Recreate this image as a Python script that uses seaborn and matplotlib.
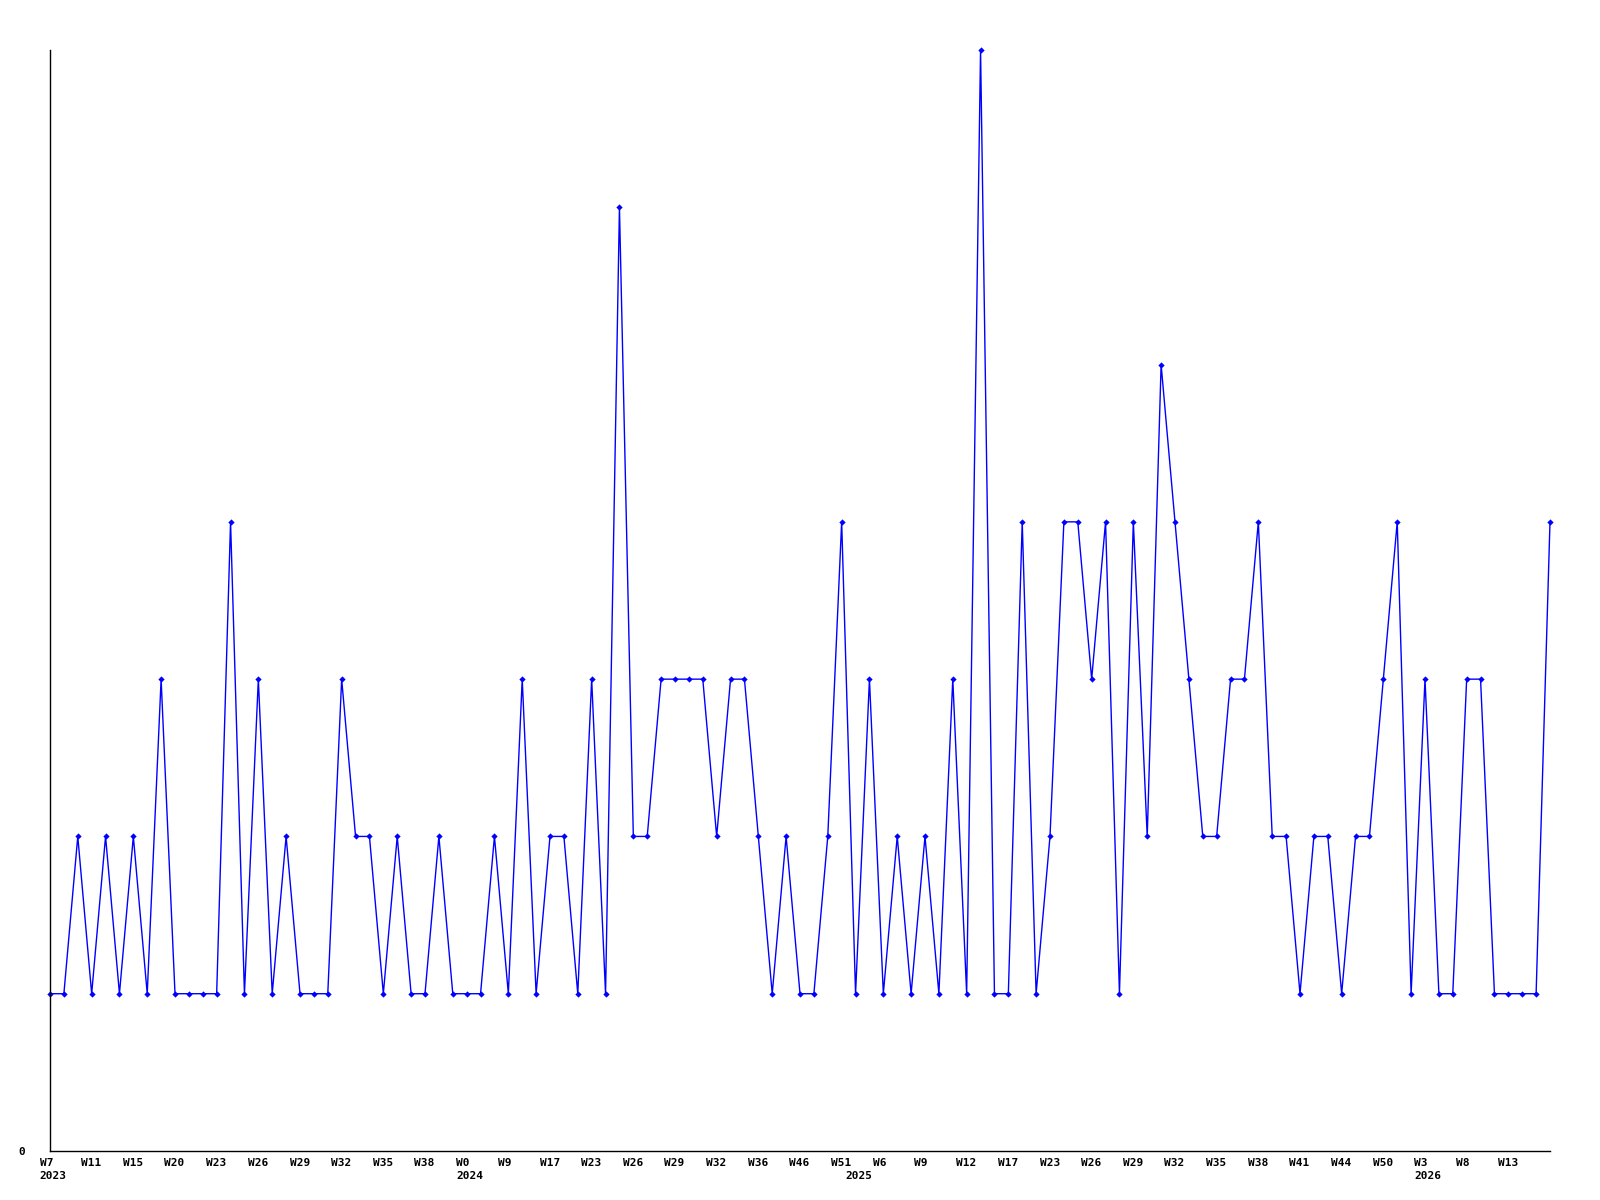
import numpy as np
import pandas as pd
import matplotlib
matplotlib.use("Agg")
import matplotlib.pyplot as plt
import seaborn as sns
from matplotlib.transforms import ScaledTranslation

# weekly counts, one per point
values = [1, 1, 2, 1, 2, 1, 2, 1, 3, 1,
          1, 1, 1, 4, 1, 3, 1, 2, 1, 1,
          1, 3, 2, 2, 1, 2, 1, 1, 2, 1,
          1, 1, 2, 1, 3, 1, 2, 2, 1, 3,
          1, 6, 2, 2, 3, 3, 3, 3, 2, 3,
          3, 2, 1, 2, 1, 1, 2, 4, 1, 3,
          1, 2, 1, 2, 1, 3, 1, 7, 1, 1,
          4, 1, 2, 4, 4, 3, 4, 1, 4, 2,
          5, 4, 3, 2, 2, 3, 3, 4, 2, 2,
          1, 2, 2, 1, 2, 2, 3, 4, 1, 3,
          1, 1, 3, 3, 1, 1, 1, 1, 4]

# week labels shown every third point
week_labels = ["W7", "W11", "W15", "W20", "W23", "W26", "W29", "W32", "W35", "W38",
               "W0", "W9", "W17", "W23", "W26", "W29", "W32", "W36", "W46", "W51",
               "W6", "W9", "W12", "W17", "W23", "W26", "W29", "W32", "W35", "W38",
               "W41", "W44", "W50", "W3", "W8", "W13"]
tick_step = 3
# year labels at the first point of each year
year_labels = ["2023", "2024", "2025", "2026"]
year_starts = [0, 30, 58, 99]
y_ticks = [0]
y_tick_labels = ["0"]

sns.set_theme(style="white")
plt.rcParams["font.family"] = ["DejaVu Sans Mono", "DejaVu Sans"]

W, H = 1600, 1200
fig = plt.figure(figsize=(W / 100, H / 100), dpi=100)
ax = fig.add_axes([50 / W, 1 - 1151 / H, 1500 / W, (1151 - 50) / H])

df = pd.DataFrame({"week": np.arange(len(values)), "count": values})
sns.lineplot(data=df, x="week", y="count", ax=ax, color="#0000ff", lw=1.0,
             marker="D", markersize=3.2, markeredgewidth=0, clip_on=False)

ax.set_xlim(0, len(values) - 1)
ax.set_ylim(0, 7)
ax.xaxis.remove_overlapping_locs = False
ax.set_xticks(np.arange(len(week_labels)) * tick_step)
ax.set_xticklabels(week_labels, fontsize=8, fontweight="bold")
ax.set_xticks(year_starts, minor=True)
ax.set_xticklabels(year_labels, minor=True, fontsize=8, fontweight="bold")
ax.set_yticks(y_ticks)
ax.set_yticklabels(y_tick_labels, fontsize=8, fontweight="bold")
ax.set_xlabel("")
ax.set_ylabel("")
ax.grid(False)
ax.set_facecolor("white")

for s in ["top", "right"]:
    ax.spines[s].set_visible(False)
for s in ["left", "bottom"]:
    ax.spines[s].set_color("black")
    ax.spines[s].set_linewidth(1.0)

ax.tick_params(axis="x", which="major", length=0, pad=5, colors="black")
ax.tick_params(axis="x", which="minor", length=0, pad=14.5, colors="black")
ax.tick_params(axis="y", length=0, pad=18, colors="black")

offset = ScaledTranslation(-10.5 / 100, 0, fig.dpi_scale_trans)
for lab in ax.get_xticklabels(which="both"):
    lab.set_horizontalalignment("left")
    lab.set_transform(lab.get_transform() + offset)

fig.savefig("out.png", dpi=100, facecolor="white")
